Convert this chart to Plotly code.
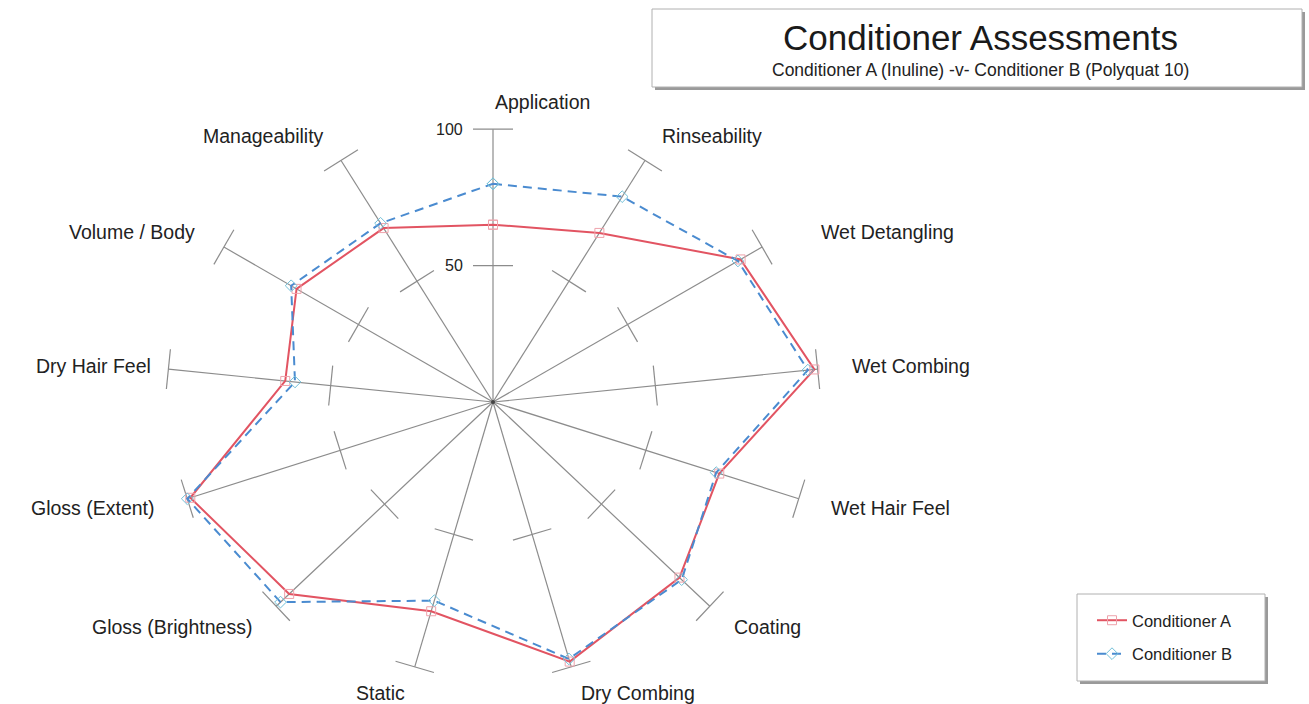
import math
import plotly.graph_objects as go

# ---------------- data ----------------
categories = ["Application", "Rinseability", "Wet Detangling", "Wet Combing",
              "Wet Hair Feel", "Coating", "Dry Combing", "Static",
              "Gloss (Brightness)", "Gloss (Extent)", "Dry Hair Feel",
              "Volume / Body", "Manageability"]
cond_a = [65, 70, 92, 99, 74, 86, 98, 79, 94, 99, 64, 73, 72]
cond_b = [80, 85, 91, 97, 73, 87, 97, 75, 98, 100, 61, 75, 74]
series_names = ["Conditioner A", "Conditioner B"]
axis_ticks = [50, 100]
axis_max = 100

title_text = "Conditioner Assessments"
subtitle_text = "Conditioner A (Inuline) -v- Conditioner B (Polyquat 10)"

# ---------------- layout constants ----------------
W, H = 1309, 704
CX, CY = 493, 402           # centre of the chart in pixels
UX, UY = 3.27, 2.728        # pixels per value unit (horizontal / vertical)
FONT = "Liberation Sans, Arial, Helvetica, sans-serif"
label_nudge = {"Wet Detangling": 30, "Dry Hair Feel": 17}  # pixel nudges
n = len(categories)
angles = [2 * math.pi * i / n for i in range(n)]


def polar_xy(values):
    xs = [v * math.sin(t) for v, t in zip(values, angles)]
    ys = [v * math.cos(t) for v, t in zip(values, angles)]
    return xs + xs[:1], ys + ys[:1]


fig = go.Figure()

# axis spokes and tick bars
ax_x, ax_y = [], []
half = 20  # half tick-bar length in pixels
for t in angles:
    ax_x += [0, axis_max * math.sin(t), None]
    ax_y += [0, axis_max * math.cos(t), None]
    dx, dy = UX * math.sin(t), UY * math.cos(t)
    L = math.hypot(dx, dy)
    nx, ny = -dy / L, dx / L
    for r in axis_ticks:
        px, py = r * math.sin(t) * UX, r * math.cos(t) * UY
        ax_x += [(px + half * nx) / UX, (px - half * nx) / UX, None]
        ax_y += [(py + half * ny) / UY, (py - half * ny) / UY, None]
fig.add_trace(go.Scatter(x=ax_x, y=ax_y, mode="lines",
                         line=dict(color="#8c8c8c", width=1.2),
                         hoverinfo="skip", showlegend=False))
fig.add_trace(go.Scatter(x=[0], y=[0], mode="markers",
                         marker=dict(color="#444", size=4),
                         hoverinfo="skip", showlegend=False))

xa, ya = polar_xy(cond_a)
xb, yb = polar_xy(cond_b)
fig.add_trace(go.Scatter(
    x=xa, y=ya, mode="lines+markers", name=series_names[0], legendgroup="a",
    line=dict(color="#e25462", width=2),
    marker=dict(symbol="square-open", size=9, color="#ee a2ab".replace(" ", ""), line=dict(width=1)),
    hoverinfo="skip"))
fig.add_trace(go.Scatter(
    x=xb, y=yb, mode="lines+markers", name=series_names[1], legendgroup="b",
    line=dict(color="#4a8bd0", width=2, dash="9px,6px"),
    marker=dict(symbol="diamond-open", size=9, color="#72c0d8", line=dict(width=1)),
    hoverinfo="skip"))

annotations = []
for cat, t in zip(categories, angles):
    s = math.sin(t)
    r = axis_max * 1.10
    anchor = "left" if (abs(s) < 0.05 or s > 0) else "right"
    annotations.append(dict(x=r * math.sin(t), y=r * math.cos(t), text=cat,
                            showarrow=False, xanchor=anchor, yanchor="middle",
                            xshift=label_nudge.get(cat, 0),
                            font=dict(family=FONT, size=19.5, color="#222")))
for r in axis_ticks:
    annotations.append(dict(x=0, y=r, text=str(r), showarrow=False,
                            xanchor="right", yanchor="middle", xshift=-28,
                            font=dict(family=FONT, size=16, color="#222")))


def px2paper(x, y):
    return x / W, 1 - y / H


shapes = []


def box(x0, y0, x1, y1):
    a0, b0 = px2paper(x0 + 3, y0 + 3)
    a1, b1 = px2paper(x1 + 3, y1 + 3)
    shapes.append(dict(type="rect", xref="paper", yref="paper", x0=a0, y0=b1, x1=a1, y1=b0,
                       fillcolor="#9a9a9a", line=dict(width=0), layer="below"))
    a0, b0 = px2paper(x0, y0)
    a1, b1 = px2paper(x1, y1)
    shapes.append(dict(type="rect", xref="paper", yref="paper", x0=a0, y0=b1, x1=a1, y1=b0,
                       fillcolor="white", line=dict(color="#b0b0b0", width=1), layer="below"))


box(652, 9, 1302, 87)
box(1077, 594, 1265, 681)

tx, ty = px2paper(980, 38)
annotations.append(dict(xref="paper", yref="paper", x=tx, y=ty, text=title_text,
                        showarrow=False, xanchor="center", yanchor="middle",
                        font=dict(family=FONT, size=35, color="#1a1a1a")))
tx, ty = px2paper(980, 70)
annotations.append(dict(xref="paper", yref="paper", x=tx, y=ty, text=subtitle_text,
                        showarrow=False, xanchor="center", yanchor="middle",
                        font=dict(family=FONT, size=17.5, color="#222")))

lx, ly = px2paper(1092, 603)
fig.update_layout(
    width=W, height=H, margin=dict(l=0, r=0, t=0, b=0),
    paper_bgcolor="white", plot_bgcolor="rgba(0,0,0,0)",
    xaxis=dict(range=[-CX / UX, (W - CX) / UX], visible=False, fixedrange=True),
    yaxis=dict(range=[-(H - CY) / UY, CY / UY], visible=False, fixedrange=True),
    showlegend=True,
    legend=dict(x=lx, y=ly, xanchor="left", yanchor="top", bgcolor="rgba(0,0,0,0)",
                borderwidth=0, tracegroupgap=9, itemwidth=30,
                font=dict(family=FONT, size=16.5, color="#222")),
    annotations=annotations, shapes=shapes,
)

fig.write_html("out.html", config={"displayModeBar": False},
               post_script="document.body.style.margin='0';")
